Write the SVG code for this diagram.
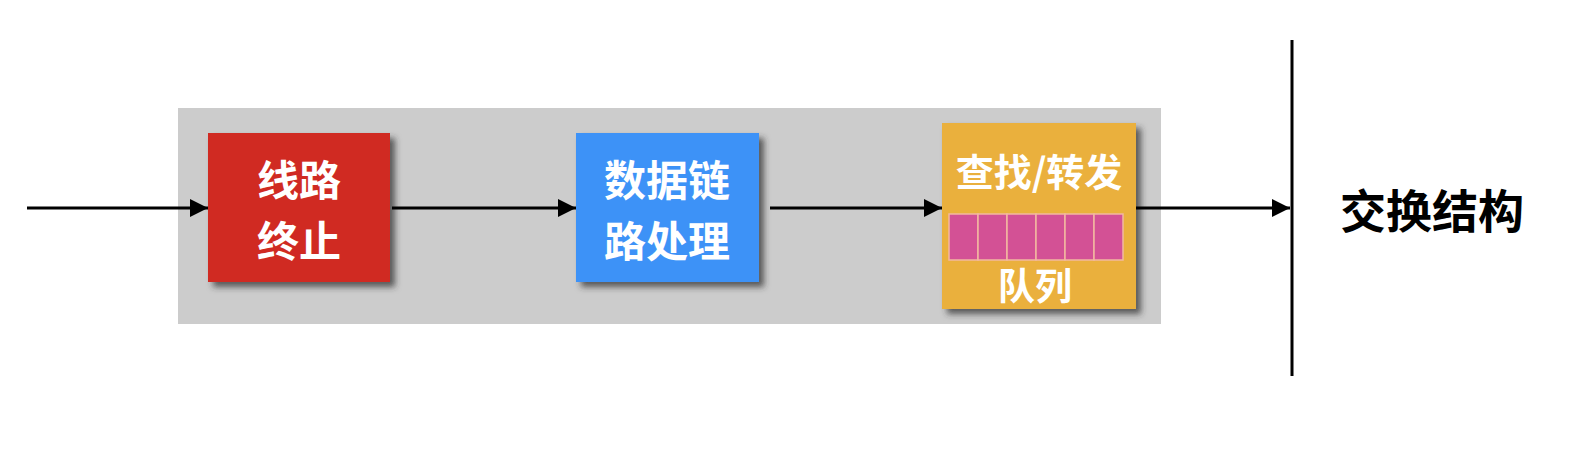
<svg xmlns="http://www.w3.org/2000/svg" width="1594" height="450" viewBox="0 0 1594 450">
<defs>
<filter id="sh" x="-10%" y="-10%" width="130%" height="130%">
<feDropShadow dx="5" dy="5" stdDeviation="3" flood-color="#333" flood-opacity="0.75"/>
</filter>
<marker id="ah" markerWidth="18" markerHeight="18" refX="18" refY="9" orient="auto" markerUnits="userSpaceOnUse">
<path d="M0,0 L18,9 L0,18 Z" fill="#000"/>
</marker>
<style>
.wt{font-family:"Noto Sans CJK SC","Liberation Sans",sans-serif;font-weight:bold;fill:#fff;text-anchor:middle;dominant-baseline:central}
.bt{font-family:"Noto Sans CJK SC","Liberation Sans",sans-serif;font-weight:bold;fill:#000;text-anchor:middle;dominant-baseline:central}
.conn{stroke:#000;stroke-width:3;fill:none;marker-end:url(#ah)}
.cell{fill:#d35195;stroke:#f2b8a0;stroke-width:1.5}
</style>
</defs>
<rect width="1594" height="450" fill="#fff"/>
<g id="container">
<rect x="178" y="108" width="983" height="216" fill="#cccccc"/>
</g>
<g id="node-line-termination">
<rect x="208" y="133" width="182" height="149" fill="#d02b21" filter="url(#sh)"/>
<text class="wt" x="299" y="177" font-size="42">线路</text>
<text class="wt" x="299" y="238" font-size="42">终止</text>
</g>
<g id="node-link-processing">
<rect x="576" y="133" width="183" height="149" fill="#3e92f7" filter="url(#sh)"/>
<text class="wt" x="667" y="177" font-size="42">数据链</text>
<text class="wt" x="667" y="238" font-size="42">路处理</text>
</g>
<g id="node-lookup-forward">
<rect x="942" y="123" width="194" height="186" fill="#eab03e" filter="url(#sh)"/>
<text class="wt" x="1039" y="169" font-size="38">查找/转发</text>
<g id="queue">
<rect class="cell" x="949" y="214" width="29" height="46"/>
<rect class="cell" x="978" y="214" width="29" height="46"/>
<rect class="cell" x="1007" y="214" width="29" height="46"/>
<rect class="cell" x="1036" y="214" width="29" height="46"/>
<rect class="cell" x="1065" y="214" width="29" height="46"/>
<rect class="cell" x="1094" y="214" width="29" height="46"/>
</g>
<text class="wt" x="1035" y="284" font-size="37">队列</text>
</g>
<g id="switch-fabric">
<line x1="1292" y1="40" x2="1292" y2="376" stroke="#000" stroke-width="3"/>
<text class="bt" x="1432" y="208" font-size="46">交换结构</text>
</g>
<g id="connectors">
<line class="conn" x1="27" y1="208" x2="208" y2="208"/>
<line class="conn" x1="392" y1="208" x2="576" y2="208"/>
<line class="conn" x1="770" y1="208" x2="942" y2="208"/>
<line class="conn" x1="1136" y1="208" x2="1290" y2="208"/>
</g>
</svg>
